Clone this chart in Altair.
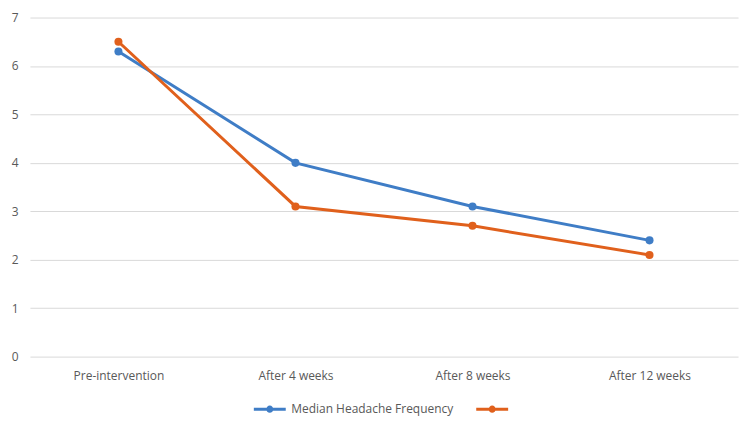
import altair as alt
import pandas as pd

categories = ["Pre-intervention", "After 4 weeks", "After 8 weeks", "After 12 weeks"]
series_names = ["Median Headache Frequency", " "]
blue_values = [6.3, 4.0, 3.1, 2.4]
orange_values = [6.5, 3.1, 2.7, 2.1]
colors = ["#3F7DC6", "#E0601C"]
y_ticks = [0, 1, 2, 3, 4, 5, 6, 7]

rows = []
for name, vals in zip(series_names, [blue_values, orange_values]):
    for c, v in zip(categories, vals):
        rows.append({"period": c, "value": v, "series": name})
df = pd.DataFrame(rows)

FONT = "Open Sans"
TXT = "#595959"

legend_symbol = "M-1,0L1,0M0.13,0A0.13,0.13 0 1,1 -0.13,0A0.13,0.13 0 1,1 0.13,0Z"

color = alt.Color(
    "series:N",
    scale=alt.Scale(domain=series_names, range=colors),
    legend=alt.Legend(
        title=None,
        orient="none",
        legendX=223,
        legendY=375,
        direction="horizontal",
        symbolType=legend_symbol,
        symbolSize=1024,
        symbolStrokeWidth=3,
        labelFont=FONT,
        labelFontSize=12,
        labelColor=TXT,
        labelOffset=4,
        columnPadding=16,
        labelLimit=300,
    ),
)

x = alt.X(
    "period:N",
    sort=categories,
    scale=alt.Scale(paddingInner=0, paddingOuter=0),
    axis=alt.Axis(
        title=None,
        labelAngle=0,
        domain=False,
        ticks=False,
        labelFont=FONT,
        labelFontSize=12,
        labelColor=TXT,
        labelPadding=14,
    ),
)
y = alt.Y(
    "value:Q",
    scale=alt.Scale(domain=[0, 7]),
    axis=alt.Axis(
        title=None,
        values=y_ticks,
        domain=False,
        ticks=False,
        labelFont=FONT,
        labelFontSize=12,
        labelColor=TXT,
        labelPadding=12,
        gridColor="#D9D9D9",
        gridWidth=1,
    ),
)

base = alt.Chart(df).encode(x=x, y=y, color=color, order=alt.Order("series:N"))
lines = base.mark_line(strokeWidth=3)
points = base.mark_point(filled=True, size=65, opacity=1)

chart = (
    alt.layer(lines, points)
    .properties(
        width=710,
        height=340,
        padding={"left": 22, "top": 9, "right": 10, "bottom": 70},
        autosize=alt.AutoSizeParams(type="none"),
        background="white",
    )
    .configure_view(stroke=None)
)

chart.save("out.html", embed_options={"renderer": "svg", "actions": False})
